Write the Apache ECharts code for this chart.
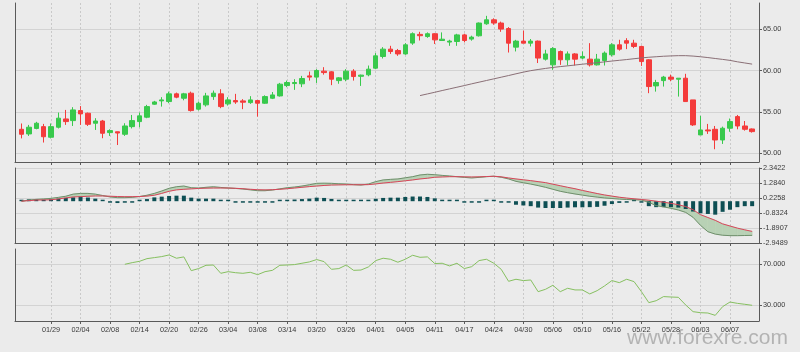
<!DOCTYPE html>
<html>
<head>
<meta charset="utf-8">
<title>K线 MACD RSI</title>
<script src="https://cdn.jsdelivr.net/npm/echarts@6/dist/echarts.min.js"></script>
<style>
  html, body { margin: 0; padding: 0; background: #ebebeb; }
  #main { width: 800px; height: 352px; }
</style>
</head>
<body>
<div id="main"></div>
<script>
// daily candles, index 0..99
var opens = [52.9, 52.34, 53.0, 53.22, 51.94, 53.15, 54.15, 53.95, 55.16, 54.84,
  53.63, 53.9, 52.5, 52.6, 52.3, 53.22, 53.83, 54.36, 55.93, 56.33,
  56.25, 57.18, 56.65, 57.26, 55.33, 55.85, 56.85, 57.18, 55.97, 56.37,
  56.33, 56.12, 56.37, 56.05, 56.65, 56.93, 58.18, 58.42, 58.39, 59.35,
  59.2, 59.92, 59.84, 58.78, 58.95, 59.92, 59.3, 59.48, 60.28, 61.69,
  62.58, 62.41, 62.0, 63.31, 64.36, 64.1, 64.44, 63.62, 63.43, 63.5,
  64.3, 63.79, 64.19, 65.64, 66.12, 65.73, 65.07, 62.82, 63.55, 63.3,
  63.55, 61.37, 60.68, 62.29, 61.29, 62.0, 61.5, 61.37, 60.68, 61.2,
  61.9, 63.1, 63.6, 63.3, 62.9, 61.29, 58.14, 58.78, 59.2, 58.95,
  59.07, 56.45, 52.22, 52.82, 52.9, 51.61, 53.03, 54.43, 53.3, 52.94];
var closes = [52.3, 53.15, 53.63, 52.0, 53.22, 54.24, 53.83, 55.24, 54.76, 53.5,
  53.9, 52.42, 52.74, 52.45, 53.3, 53.95, 54.52, 55.64, 56.2, 56.45,
  57.18, 56.78, 57.18, 55.16, 56.05, 56.93, 57.26, 55.64, 56.45, 56.2,
  56.17, 56.45, 56.05, 56.85, 57.05, 58.35, 58.55, 58.55, 59.03, 59.2,
  60.0, 59.75, 58.95, 59.11, 59.92, 59.27, 59.44, 60.16, 61.77, 62.58,
  62.29, 62.0, 63.1, 64.44, 64.2, 64.44, 63.7, 63.78, 63.55, 64.3,
  63.62, 64.03, 65.73, 66.12, 65.73, 65.0, 63.3, 63.55, 63.3, 63.55,
  61.5, 62.0, 62.65, 61.29, 62.0, 61.37, 61.7, 60.68, 61.37, 62.1,
  63.1, 62.58, 63.3, 62.9, 61.08, 58.06, 58.55, 59.2, 58.95, 59.07,
  56.25, 53.43, 52.82, 52.7, 51.61, 53.03, 53.83, 53.3, 52.9, 52.62];
var lows = [51.8, 52.1, 52.9, 51.3, 51.8, 53.0, 53.43, 53.3, 53.43, 53.3,
  52.82, 51.82, 52.1, 51.0, 52.1, 53.0, 53.15, 54.24, 55.85, 55.64,
  56.05, 56.65, 56.4, 55.04, 55.16, 55.64, 56.45, 55.45, 55.76, 55.97,
  55.33, 55.97, 54.43, 55.97, 56.55, 56.85, 57.99, 57.66, 57.99, 58.78,
  58.5, 59.5, 58.23, 58.4, 58.7, 58.78, 58.14, 59.3, 60.16, 61.45,
  62.0, 61.77, 61.9, 63.1, 63.62, 63.95, 63.2, 63.6, 62.98, 62.98,
  63.4, 63.6, 64.1, 65.52, 65.52, 64.67, 62.17, 62.3, 63.3, 62.9,
  60.9, 61.2, 60.08, 60.68, 60.6, 60.6, 61.37, 60.48, 60.6, 60.6,
  61.69, 62.4, 62.58, 62.7, 60.55, 57.26, 57.45, 58.06, 58.7, 56.85,
  56.25, 53.3, 52.22, 52.34, 50.49, 51.13, 52.6, 52.9, 52.74, 52.5];
var highs = [53.6, 53.43, 53.8, 53.55, 53.6, 54.92, 55.24, 55.57, 55.7, 54.92,
  54.24, 54.03, 52.9, 52.62, 53.63, 54.63, 54.92, 55.85, 56.33, 56.78,
  57.45, 57.33, 57.3, 57.45, 56.25, 57.3, 57.58, 57.74, 56.78, 57.18,
  56.54, 56.9, 56.45, 57.0, 57.4, 58.5, 58.78, 58.95, 59.35, 59.87,
  60.16, 60.4, 59.92, 59.2, 60.16, 60.16, 59.5, 60.6, 62.1, 62.82,
  62.98, 62.6, 63.3, 64.6, 64.67, 64.6, 64.5, 64.6, 63.71, 64.43,
  64.44, 64.2, 65.8, 66.6, 66.3, 65.9, 65.24, 63.7, 64.83, 63.8,
  63.62, 62.5, 62.82, 62.41, 62.3, 62.1, 62.3, 63.3, 62.0, 62.3,
  63.3, 63.71, 63.9, 63.71, 63.0, 61.37, 58.87, 59.35, 59.5, 59.07,
  59.6, 56.45, 54.52, 53.55, 53.3, 53.22, 54.2, 54.63, 53.9, 53.0];

// moving average, begins at candle 54
var maStart = 54;
var maValues = [56.97, 57.17, 57.37, 57.58, 57.78, 57.98, 58.18, 58.39, 58.59, 58.79,
  58.99, 59.19, 59.39, 59.6, 59.8, 59.98, 60.12, 60.25, 60.37, 60.47,
  60.56, 60.66, 60.76, 60.85, 60.94, 61.04, 61.14, 61.23, 61.32, 61.42,
  61.52, 61.6, 61.66, 61.72, 61.76, 61.79, 61.79, 61.74, 61.66, 61.56,
  61.45, 61.34, 61.22, 61.05, 60.91, 60.77];

// MACD
var dif = [0.0, 0.08, 0.13, 0.16, 0.2, 0.27, 0.35, 0.5, 0.55, 0.55,
  0.5, 0.4, 0.3, 0.25, 0.25, 0.27, 0.33, 0.42, 0.55, 0.72,
  0.91, 1.02, 1.07, 0.95, 0.93, 0.98, 1.02, 0.97, 0.93, 0.9,
  0.86, 0.8, 0.74, 0.74, 0.79, 0.87, 0.95, 1.0, 1.07, 1.16,
  1.26, 1.27, 1.26, 1.23, 1.21, 1.17, 1.14, 1.21, 1.38, 1.5,
  1.54, 1.57, 1.65, 1.73, 1.85, 1.9, 1.87, 1.82, 1.78, 1.73,
  1.68, 1.64, 1.68, 1.73, 1.76, 1.69, 1.57, 1.4, 1.3, 1.21,
  1.1, 0.98, 0.84, 0.7, 0.6, 0.51, 0.43, 0.35, 0.29, 0.23,
  0.19, 0.15, 0.12, 0.1, 0.08, -0.08, -0.31, -0.4, -0.5, -0.62,
  -0.79, -1.14, -1.7, -2.15, -2.32, -2.4, -2.43, -2.43, -2.42, -2.41];
var dea = [0.0, 0.04, 0.08, 0.09, 0.1, 0.16, 0.23, 0.3, 0.32, 0.35,
  0.37, 0.37, 0.35, 0.33, 0.32, 0.32, 0.33, 0.36, 0.42, 0.55,
  0.7, 0.8, 0.84, 0.87, 0.9, 0.92, 0.93, 0.93, 0.93, 0.91,
  0.88, 0.84, 0.81, 0.8, 0.81, 0.84, 0.88, 0.93, 0.98, 1.03,
  1.07, 1.11, 1.14, 1.15, 1.16, 1.16, 1.16, 1.17, 1.22, 1.28,
  1.33, 1.38, 1.44, 1.5, 1.57, 1.62, 1.69, 1.71, 1.73, 1.73,
  1.72, 1.71, 1.72, 1.74, 1.76, 1.72, 1.64, 1.57, 1.51, 1.45,
  1.38, 1.31, 1.2, 1.09, 0.98, 0.88, 0.76, 0.65, 0.54, 0.44,
  0.36, 0.28, 0.22, 0.17, 0.12, 0.07, 0.0, -0.07, -0.15, -0.25,
  -0.38, -0.6, -0.95, -1.15, -1.35, -1.6, -1.75, -1.9, -2.02, -2.13];
var hist = [0.0, 0.13, 0.13, 0.1, 0.13, 0.18, 0.23, 0.27, 0.33, 0.26,
  0.18, 0.03, -0.03, -0.13, -0.1, -0.05, 0.05, 0.15, 0.27, 0.32,
  0.37, 0.39, 0.39, 0.25, 0.18, 0.18, 0.18, 0.02, 0.0, -0.02,
  -0.03, -0.03, -0.05, -0.04, -0.02, 0.03, 0.1, 0.12, 0.15, 0.18,
  0.25, 0.23, 0.16, 0.05, 0.08, 0.03, 0.0, 0.02, 0.17, 0.23,
  0.25, 0.25, 0.3, 0.33, 0.33, 0.3, 0.2, 0.07, 0.03, 0.0,
  -0.02, -0.03, -0.02, 0.0, 0.0, -0.02, -0.1, -0.25, -0.3, -0.35,
  -0.45, -0.48, -0.48, -0.48, -0.45, -0.43, -0.43, -0.42, -0.4, -0.32,
  -0.2, -0.12, -0.05, 0.0, -0.03, -0.35, -0.42, -0.42, -0.42, -0.45,
  -0.55, -0.73, -0.85, -0.9, -0.95, -0.75, -0.6, -0.42, -0.35, -0.35];

// RSI, begins at candle 14
var rsiStart = 14;
var rsiValues = [70.0, 71.6, 72.9, 75.5, 76.5, 77.5, 79.1, 75.9, 77.2, 63.8,
  65.8, 69.0, 69.3, 61.2, 62.8, 61.8, 61.2, 62.2, 59.9, 62.8,
  64.1, 69.0, 69.3, 69.7, 71.0, 72.3, 74.6, 72.6, 65.1, 65.8,
  69.3, 64.1, 64.4, 67.4, 73.6, 75.9, 74.9, 72.0, 74.9, 78.8,
  76.8, 77.2, 70.7, 71.0, 68.4, 71.0, 65.8, 67.7, 73.6, 74.9,
  71.0, 65.1, 53.4, 55.4, 54.1, 54.7, 43.3, 45.6, 49.5, 43.3,
  46.6, 45.0, 45.0, 41.1, 44.3, 48.9, 54.1, 52.1, 55.4, 53.1,
  43.3, 32.6, 34.5, 38.5, 38.1, 37.8, 30.3, 23.8, 22.8, 22.5,
  20.2, 28.7, 33.2, 31.9, 31.0, 30.0];

// axis ticks
var tickIdx = [4, 8, 12, 16, 20, 24, 28, 32, 36, 40, 44, 48, 52, 56, 60, 64, 68, 72, 76, 80, 84, 88, 92, 96];
var tickLabels = ['01/29', '02/04', '02/08', '02/14', '02/20', '02/26', '03/04', '03/08', '03/14', '03/20',
  '03/26', '04/01', '04/05', '04/11', '04/17', '04/24', '04/30', '05/06', '05/10', '05/16',
  '05/22', '05/28', '06/03', '06/07'];
var priceTicks = [50, 55, 60, 65];
var macdTicks = [2.3422, 1.2840, 0.2258, -0.8324, -1.8907, -2.9489];
var rsiTicks = [70, 30];

var candles = [], maData = [], difData = [], deaData = [], bandData = [], histData = [], rsiData = [];
for (var i = 0; i < opens.length; i++) {
  candles.push([i, opens[i], closes[i], lows[i], highs[i]]);
  difData.push([i, dif[i]]);
  deaData.push([i, dea[i]]);
  histData.push([i, hist[i]]);
  if (i < opens.length - 1) bandData.push([i, dif[i], dea[i], dif[i + 1], dea[i + 1]]);
}
maValues.forEach(function (v, k) { maData.push([maStart + k, v]); });
rsiValues.forEach(function (v, k) { rsiData.push([rsiStart + k, v]); });

var axisColor = '#5a5a5a';
var font = 'Liberation Sans';
var fsize = 7.3;
var bandColor = '#b8d1b5';

function xAx(g) {
  return {
    type: 'value', gridIndex: g, min: -0.88, max: 99.93,
    axisLine: { show: true, onZero: false, lineStyle: { color: axisColor } },
    axisTick: { show: true, customValues: tickIdx, length: 3, lineStyle: { color: axisColor } },
    axisLabel: {
      show: g === 2, customValues: tickIdx, margin: 5,
      fontFamily: font, fontSize: fsize, color: '#3a3a3a',
      formatter: function (v) { return tickLabels[tickIdx.indexOf(Math.round(v))] || ''; }
    },
    splitLine: { show: true, lineStyle: { color: '#c9c9c9', type: [2, 2] } }
  };
}
function yRight(g, mn, mx, ticks, fmt) {
  return {
    type: 'value', gridIndex: g, position: 'right', min: mn, max: mx,
    axisLine: { show: true, onZero: false, lineStyle: { color: axisColor } },
    axisTick: { show: true, customValues: ticks, length: 3, lineStyle: { color: axisColor } },
    axisLabel: { customValues: ticks, margin: 4, fontFamily: font, fontSize: fsize, color: '#3a3a3a', formatter: fmt },
    splitLine: { show: true, lineStyle: { color: '#d3d3d3' } }
  };
}
function yLeft(g, mn, mx) {
  return {
    type: 'value', gridIndex: g, position: 'left', min: mn, max: mx,
    axisLine: { show: true, onZero: false, lineStyle: { color: axisColor } },
    axisTick: { show: false }, axisLabel: { show: false }, splitLine: { show: false }
  };
}

var chart = echarts.init(document.getElementById('main'));
chart.setOption({
  animation: false,
  backgroundColor: '#ebebeb',
  grid: [
    { left: 15, right: 41, top: 3, height: 159 },
    { left: 15, right: 41, top: 168, height: 75 },
    { left: 15, right: 41, top: 249, height: 72 }
  ],
  xAxis: [xAx(0), xAx(1), xAx(2)],
  yAxis: [
    yRight(0, 48.95, 68.15, priceTicks, function (v) { return v.toFixed(2); }),
    yRight(1, -2.9489, 2.3422, macdTicks, function (v) { return v.toFixed(4); }),
    yRight(2, 14.7, 84.9, rsiTicks, function (v) { return v.toFixed(3); }),
    yLeft(0, 48.95, 68.15), yLeft(1, -2.9489, 2.3422), yLeft(2, 14.7, 84.9)
  ],
  series: [
    {
      type: 'candlestick', xAxisIndex: 0, yAxisIndex: 0, data: candles,
      encode: { x: 0, y: [1, 2, 3, 4] }, barWidth: 5,
      itemStyle: { color: '#38c94c', color0: '#f43b3b', borderColor: '#38c94c', borderColor0: '#f43b3b', borderWidth: 1 }
    },
    {
      type: 'line', xAxisIndex: 0, yAxisIndex: 0, data: maData, showSymbol: false,
      lineStyle: { color: '#8a6f76', width: 1 }
    },
    {
      // shaded band between DIF and DEA
      type: 'custom', xAxisIndex: 1, yAxisIndex: 1, data: bandData,
      encode: { x: 0, y: [1, 2, 3, 4] },
      renderItem: function (params, api) {
        var i = api.value(0);
        var pts = [
          api.coord([i, api.value(1)]),
          api.coord([i + 1, api.value(3)]),
          api.coord([i + 1, api.value(4)]),
          api.coord([i, api.value(2)])
        ];
        return { type: 'polygon', shape: { points: pts }, style: { fill: bandColor, stroke: bandColor, lineWidth: 0.6 } };
      }
    },
    {
      type: 'bar', xAxisIndex: 1, yAxisIndex: 1, data: histData, barWidth: 4, barMinHeight: 1.5,
      itemStyle: { color: '#0e4f54' }
    },
    {
      type: 'line', xAxisIndex: 1, yAxisIndex: 1, data: difData, showSymbol: false,
      lineStyle: { color: '#6f8f6c', width: 1 }
    },
    {
      type: 'line', xAxisIndex: 1, yAxisIndex: 1, data: deaData, showSymbol: false,
      lineStyle: { color: '#d8455a', width: 1 }
    },
    {
      type: 'line', xAxisIndex: 2, yAxisIndex: 2, data: rsiData, showSymbol: false,
      lineStyle: { color: '#86c060', width: 1 }
    }
  ],
  graphic: [
    {
      type: 'text', left: 627, top: 328,
      style: { text: 'www.forexre.com', font: '21px "Liberation Sans"', fill: '#b3b3b3' }
    }
  ]
});
</script>
</body>
</html>
